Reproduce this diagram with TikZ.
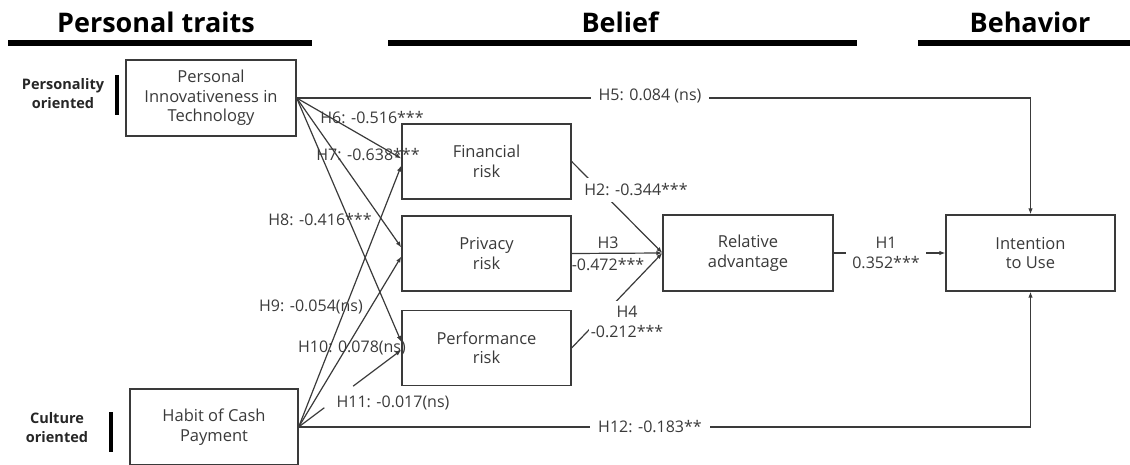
\documentclass[tikz,border=0pt]{standalone}
\usepackage{fontspec}
\setmainfont{Open Sans}
\usetikzlibrary{arrows.meta,calc}
\definecolor{ink}{HTML}{3A3A3A}
\begin{document}
\begin{tikzpicture}[x=1pt,y=-1pt,
  box/.style={draw=ink, line width=1.3pt, fill=white, align=center, text=ink,
    font=\fontsize{16.5}{19.5}\selectfont, inner sep=0pt,
    minimum width=169pt, minimum height=75pt},
  conn/.style={draw=ink, line width=1.2pt},
  arr/.style={conn, -{Latex[length=6pt,width=4.5pt]}},
  lab/.style={text=ink, font=\fontsize{16}{20}\selectfont, inner sep=1pt, align=center},
  gaplab/.style={lab, fill=white, inner xsep=8pt, inner ysep=3pt},
  head/.style={font=\fontsize{27}{32}\selectfont\bfseries, text=black, inner sep=0pt},
  headbar/.style={line width=6pt, draw=black},
  side/.style={font=\fontsize{14.5}{19}\selectfont\bfseries, text=black!85, align=center, inner sep=0pt},
  sidebar/.style={line width=4pt, draw=black}]
\useasboundingbox (0,0) rectangle (1130,465);

% headers
\node[head] (hpt) at (156,22) {Personal traits};
\node[head] (hbl) at (620,22) {Belief};
\node[head] (hbh) at (1030,22) {Behavior};
\coordinate (b1a) at (8,43); \coordinate (b1b) at (312,43);
\coordinate (b2a) at (388,43); \coordinate (b2b) at (857,43);
\coordinate (b3a) at (918,43); \coordinate (b3b) at (1130,43);
\draw[headbar] (b1a) -- (b1b);
\draw[headbar] (b2a) -- (b2b);
\draw[headbar] (b3a) -- (b3b);

% side labels
\node[side] (po) at (63,94) {Personality\\oriented};
\coordinate (s1a) at (117,75); \coordinate (s1b) at (117,115);
\draw[sidebar] (s1a) -- (s1b);
\node[side] (co) at (57,428) {Culture\\oriented};
\coordinate (s2a) at (111,412); \coordinate (s2b) at (111,452);
\draw[sidebar] (s2a) -- (s2b);

% boxes
\node[box, minimum width=170pt, minimum height=76pt] (pit) at (211,98) {Personal\\Innovativeness in\\Technology};
\node[box, minimum width=168pt, minimum height=76pt] (hab) at (214,427) {Habit of Cash\\Payment};
\node[box] (fin) at (486.5,161.5) {Financial\\risk};
\node[box] (priv) at (486.5,253.5) {Privacy\\risk};
\node[box] (perf) at (486.5,348) {Performance\\risk};
\node[box, minimum width=170pt, minimum height=76pt] (ra) at (748,253) {Relative\\advantage};
\node[box, minimum width=169pt, minimum height=76pt] (int) at (1030.5,253) {Intention\\to Use};

% direct paths
\draw[arr] (pit.east) -| (int.north);
\draw[arr] (hab.east) -| (int.south);

% traits -> risks
\draw[arr] (pit.east) -- ([yshift=3pt]fin.west);
\draw[arr] (pit.east) -- ([yshift=6pt]priv.west);
\draw[arr] (pit.east) -- ([yshift=6pt]perf.west);
\draw[arr] (hab.east) -- ([yshift=-4pt]fin.west);
\draw[arr] (hab.east) -- ([yshift=-3pt]priv.west);
\draw[conn] (hab.east) -- ($(hab.east)!0.25!([yshift=-2pt]perf.west)$);
\draw[arr] ($(hab.east)!0.53!([yshift=-2pt]perf.west)$) -- ([yshift=-2pt]perf.west);

% risks -> relative advantage
\draw[arr] (fin.east) -- (ra.west);
\draw[arr] (priv.east) -- (ra.west);
\draw[arr] (perf.east) -- (ra.west);

% relative advantage -> intention
\draw[arr] (ra.east) -- (int.west);

% labels
\node[gaplab] (l5) at (650,96) {H5: 0.084 (ns)};
\node[gaplab] (l12) at (650,427) {H12: -0.183**};
\node[lab] (l6) at (372,118) {H6: -0.516***};
\node[lab] (l7) at (368,155) {H7: -0.638***};
\node[lab] (l8) at (320,220) {H8: -0.416***};
\node[lab] (l9) at (311,307) {H9: -0.054(ns)};
\node[lab] (l10) at (352,348) {H10: 0.078(ns)};
\node[lab] (l11) at (393,403) {H11: -0.017(ns)};
\node[gaplab, inner xsep=2pt, inner ysep=6pt] (l2) at (636,190) {H2: -0.344***};
\node[lab] (l3a) at (608,243) {H3};
\node[lab] (l3b) at (608,265) {-0.472***};
\node[gaplab, inner xsep=2pt, inner ysep=5pt] (l4) at (627,322) {H4\\-0.212***};
\node[gaplab, inner xsep=6pt, inner ysep=3pt] (l1) at (886,253) {H1\\0.352***};
\end{tikzpicture}
\end{document}
